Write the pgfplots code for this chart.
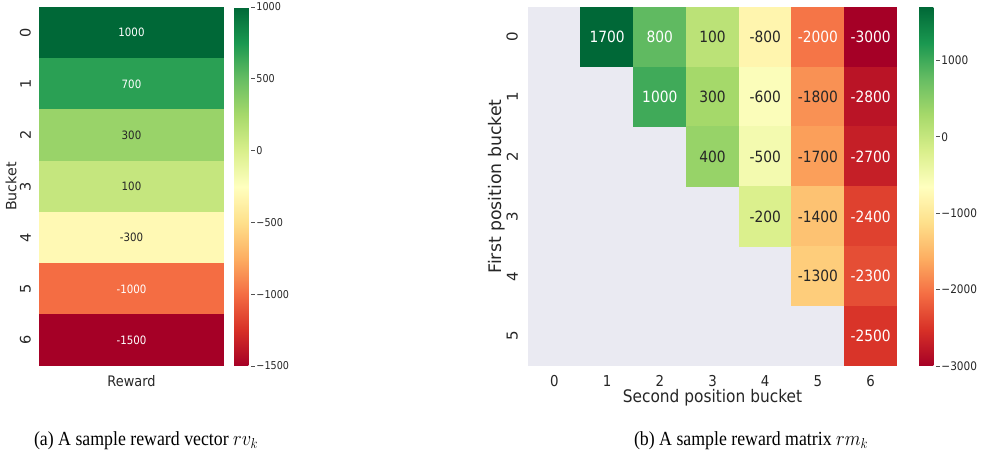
\documentclass[border=0pt]{standalone}
\usepackage{pgfplots}
\pgfplotsset{compat=1.18}
\usepackage{pgfplotstable}
\usepackage{fontspec}
\setmainfont{DejaVu Sans}
\newfontfamily\capfont{Liberation Serif}
\definecolor{sbbg}{HTML}{EAEAF2}
\definecolor{dtext}{HTML}{262626}
\newcommand{\fs}[1]{\fontsize{#1}{#1}\selectfont}
\newcommand{\cbL}[1]{{\fs{10.8}#1}}
\newcommand{\cbR}[1]{{\fs{11.8}#1}}
\pgfdeclareplotmark{cellL}{\pgfpathrectangle{\pgfpoint{-92.8pt}{-25.95pt}}{\pgfpoint{185.6pt}{51.9pt}}\pgfusepathqfill}
\pgfdeclareplotmark{cellR}{\pgfpathrectangle{\pgfpoint{-26.6pt}{-30.17pt}}{\pgfpoint{53.2pt}{60.34pt}}\pgfusepathqfill}
\pgfplotsset{
  colormap={RdYlGn}{rgb255=(165,0,38) rgb255=(215,48,39) rgb255=(244,109,67) rgb255=(253,174,97) rgb255=(254,224,139) rgb255=(255,255,191) rgb255=(217,239,139) rgb255=(166,217,106) rgb255=(102,189,99) rgb255=(26,152,80) rgb255=(0,104,55)},
}
% reward vector: x y value white-text-flag
\pgfplotstableread{
x y v w
0 0 1000 1
0 1 700 1
0 2 300 0
0 3 100 0
0 4 -300 0
0 5 -1000 1
0 6 -1500 1
}\vecdata
% reward matrix: x=second position, y=first position
\pgfplotstableread{
x y v w
1 0 1700 1
2 0 800 1
3 0 100 0
4 0 -800 0
5 0 -2000 1
6 0 -3000 1
2 1 1000 1
3 1 300 0
4 1 -600 0
5 1 -1800 0
6 1 -2800 1
3 2 400 0
4 2 -500 0
5 2 -1700 0
6 2 -2700 1
4 3 -200 0
5 3 -1400 0
6 3 -2400 1
5 4 -1300 0
6 4 -2300 1
6 5 -2500 1
}\matdata
\begin{document}
\begin{tikzpicture}
\useasboundingbox (0,0) rectangle (983pt,457pt);
% ---------------- (a) reward vector ----------------
\begin{axis}[
  at={(39pt,91pt)}, anchor=south west,
  scale only axis, width=185pt, height=359pt,
  xmin=-0.5, xmax=0.5, ymin=-0.5, ymax=6.5, y dir=reverse,
  axis line style={draw=none}, major tick length=0pt,
  xtick={0}, xticklabels={Reward},
  ytick={0,1,2,3,4,5,6}, yticklabels={0,1,2,3,4,5,6},
  xticklabel style={font=\fs{14.5}, text=dtext, xscale=0.89, inner sep=0pt, anchor=north, yshift=-9pt},
  yticklabel style={font=\fs{14.5}, text=dtext, rotate=90, anchor=south, inner xsep=0pt, inner ysep=8pt},
  ylabel={Bucket},
  ylabel style={font=\fs{14.2}, text=dtext, at={(axis description cs:-0.151,0.5)}, anchor=center},
  colormap name=RdYlGn, point meta min=-1500, point meta max=1000,
  colorbar,
  colorbar style={
    at={(parent axis.north east)}, anchor=north west, xshift=1.5pt,
    scale only axis, width=17pt, height=359pt, y dir=normal,
    axis line style={draw=none}, xlabel={}, ylabel={},
    xtick=\empty,
    ytick={-1500,-1000,-500,0,500,1000},
    yticklabels={\cbL{−1500},\cbL{−1000},\cbL{−500},\cbL{0},\cbL{500},\cbL{1000}},
    major tick length=3.5pt, tick align=outside,
    ytick pos=right, yticklabel pos=right,
    every y tick/.style={draw=dtext!80, line width=0.8pt},
    every y tick label/.style={text=dtext, xscale=0.89, anchor=west, inner xsep=2pt, inner ysep=0pt},
  },
]
\addplot[scatter, only marks, mark=cellL, scatter src=explicit] table[x=x, y=y, meta=v] \vecdata;
\addplot[only marks, mark=none, point meta=explicit symbolic, nodes near coords, nodes near coords align={center},
  every node near coord/.append style={font=\fs{11.5}, text=white, xscale=0.89},
  restrict expr to domain={\thisrow{w}}{0.5:1.5}] table[x=x, y=y, meta=v] \vecdata;
\addplot[only marks, mark=none, point meta=explicit symbolic, nodes near coords, nodes near coords align={center},
  every node near coord/.append style={font=\fs{11.5}, text=dtext, xscale=0.89},
  restrict expr to domain={\thisrow{w}}{-0.5:0.5}] table[x=x, y=y, meta=v] \vecdata;
\end{axis}
% ---------------- (b) reward matrix ----------------
\begin{axis}[
  at={(528pt,91pt)}, anchor=south west,
  scale only axis, width=369pt, height=359pt,
  xmin=-0.5, xmax=6.5, ymin=-0.5, ymax=5.5, y dir=reverse,
  axis background/.style={fill=sbbg},
  axis line style={draw=none}, major tick length=0pt,
  xtick={0,1,2,3,4,5,6}, xticklabels={0,1,2,3,4,5,6},
  ytick={0,1,2,3,4,5}, yticklabels={0,1,2,3,4,5},
  xticklabel style={font=\fs{15}, text=dtext, xscale=0.89, inner sep=0pt, anchor=north, yshift=-9pt},
  yticklabel style={font=\fs{15}, text=dtext, rotate=90, anchor=south, inner xsep=0pt, inner ysep=10pt},
  xlabel={Second position bucket},
  xlabel style={font=\fs{17.3}, text=dtext, xscale=0.89, at={(axis description cs:0.5,-0.0891)}, anchor=center},
  ylabel={First position bucket},
  ylabel style={font=\fs{17.3}, text=dtext, at={(axis description cs:-0.084,0.5)}, anchor=center},
  colormap name=RdYlGn, point meta min=-3000, point meta max=1700,
  colorbar,
  colorbar style={
    at={(parent axis.north east)}, anchor=north west, xshift=13.5pt,
    scale only axis, width=17pt, height=359pt, y dir=normal,
    axis line style={draw=none}, xlabel={}, ylabel={},
    axis background/.style={},
    xtick=\empty,
    ytick={-3000,-2000,-1000,0,1000},
    yticklabels={\cbR{−3000},\cbR{−2000},\cbR{−1000},\cbR{0},\cbR{1000}},
    major tick length=3.5pt, tick align=outside,
    ytick pos=right, yticklabel pos=right,
    every y tick/.style={draw=dtext!80, line width=0.8pt},
    every y tick label/.style={text=dtext, xscale=0.89, anchor=west, inner xsep=2pt, inner ysep=0pt},
  },
]
\addplot[scatter, only marks, mark=cellR, scatter src=explicit] table[x=x, y=y, meta=v] \matdata;
\addplot[only marks, mark=none, point meta=explicit symbolic, nodes near coords, nodes near coords align={center},
  every node near coord/.append style={font=\fs{15.5}, text=white, xscale=0.89},
  restrict expr to domain={\thisrow{w}}{0.5:1.5}] table[x=x, y=y, meta=v] \matdata;
\addplot[only marks, mark=none, point meta=explicit symbolic, nodes near coords, nodes near coords align={center},
  every node near coord/.append style={font=\fs{15.5}, text=dtext, xscale=0.89},
  restrict expr to domain={\thisrow{w}}{-0.5:0.5}] table[x=x, y=y, meta=v] \matdata;
\end{axis}
% ---------------- captions ----------------
\node[font=\capfont\fs{20}, xscale=0.89, text=black] at (146pt,16pt) {(a) A sample reward vector $rv_k$};
\node[font=\capfont\fs{20}, xscale=0.89, text=black] at (751pt,16pt) {(b) A sample reward matrix $rm_k$};
\end{tikzpicture}
\end{document}
